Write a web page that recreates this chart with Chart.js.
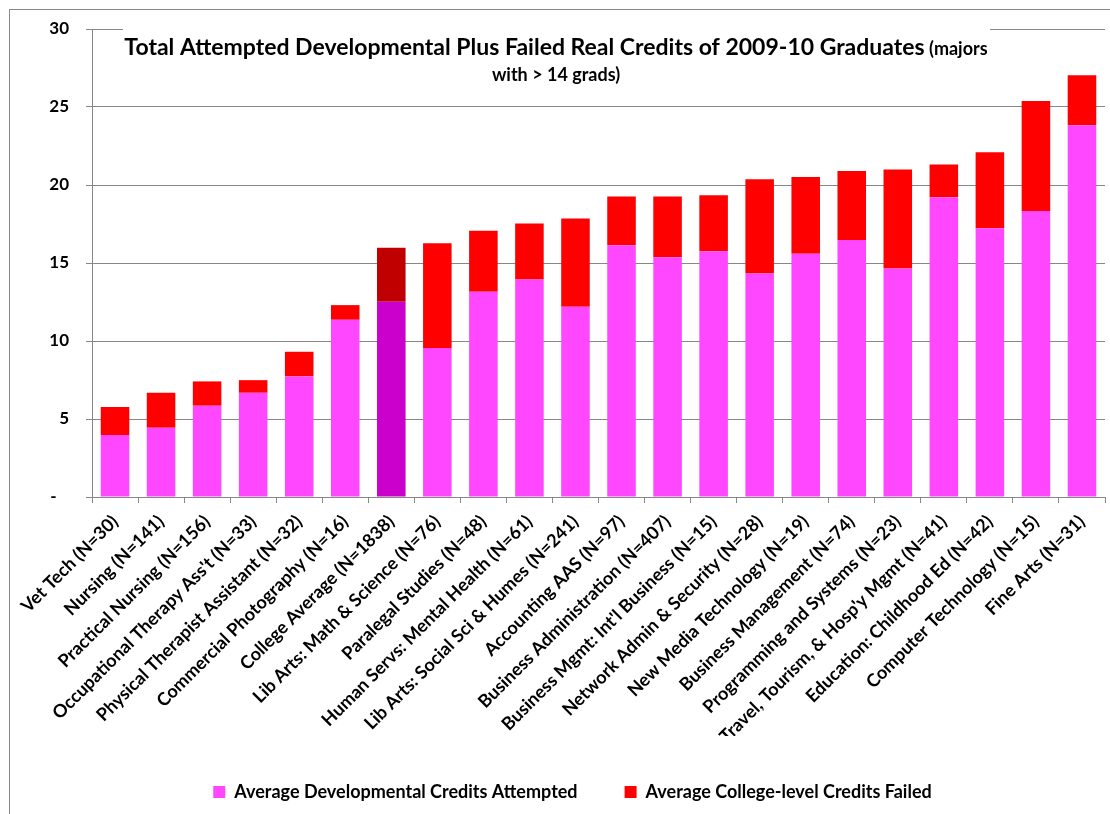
<!DOCTYPE html>
<html><head><meta charset="utf-8">
<script src="https://cdn.jsdelivr.net/npm/chart.js@4/dist/chart.umd.min.js"></script>
<style>html,body{margin:0;padding:0;background:#fff;}canvas{display:block;}</style>
</head><body>
<canvas id="c" width="1110" height="814"></canvas>
<script>
const categories = [
  'Vet Tech (N=30)','Nursing (N=141)','Practical Nursing (N=156)',"Occupational Therapy Ass't (N=33)",
  'Physical Therapist Assistant (N=32)','Commercial Photography (N=16)','College Average (N=1838)',
  'Lib Arts: Math & Science (N=76)','Paralegal Studies (N=48)','Human Servs: Mental Health (N=61)',
  'Lib Arts: Social Sci & Humes (N=241)','Accounting AAS (N=97)','Business Administration (N=407)',
  "Business Mgmt: Int'l Business (N=15)",'Network Admin & Security (N=28)','New Media Technology (N=19)',
  'Business Management (N=74)','Programming and Systems (N=23)',"Travel, Tourism, & Hosp'y Mgmt (N=41)",
  'Education: Childhood Ed (N=42)','Computer Technology (N=15)','Fine Arts (N=31)'
];
const devCredits = [3.97,4.44,5.85,6.68,7.73,11.36,12.51,9.55,13.15,13.94,12.19,16.14,15.37,15.76,14.32,15.59,16.48,14.64,19.22,17.23,18.34,23.83];
const failedCredits = [1.80,2.24,1.56,0.81,1.58,0.94,3.46,6.72,3.91,3.59,5.66,3.12,3.89,3.59,6.05,4.93,4.42,6.35,2.09,4.87,7.05,3.20];
const seriesNames = ['Average Developmental Credits Attempted','Average College-level Credits Failed'];
const yTickValues = [0,5,10,15,20,25,30];
const highlightCategory = 'College Average (N=1838)';
const titleMain = 'Total Attempted Developmental Plus Failed Real Credits of 2009-10 Graduates';
const titleTail = ' (majors';
const titleLine2 = 'with > 14 grads)';

const FONT = 'Lato, "Open Sans", sans-serif';
const GRID = '#878787';
const hiIdx = categories.indexOf(highlightCategory);

const decor = {
  id: 'decor',
  beforeDraw(chart) {
    const ctx = chart.ctx;
    ctx.save();
    ctx.fillStyle = '#fff';
    ctx.fillRect(0, 0, chart.width, chart.height);
    ctx.strokeStyle = '#8a8a8a';
    ctx.lineWidth = 1;
    ctx.strokeRect(9.5, 9.5, chart.width + 20, chart.height + 20);
    ctx.restore();
  },
  beforeDatasetsDraw(chart) {
    const ctx = chart.ctx;
    ctx.save();
    ctx.fillStyle = '#fff';
    ctx.fillRect(123, 14, 867, 84);
    ctx.fillStyle = '#000';
    ctx.textBaseline = 'alphabetic';
    ctx.textAlign = 'left';
    const cx = 556;
    ctx.font = 'bold 23px ' + FONT;
    const w1 = ctx.measureText(titleMain).width;
    ctx.font = 'bold 18px ' + FONT;
    const w2 = ctx.measureText(titleTail).width;
    let x0 = cx - (w1 + w2) / 2;
    ctx.font = 'bold 23px ' + FONT;
    ctx.fillText(titleMain, x0, 55);
    ctx.font = 'bold 18px ' + FONT;
    ctx.fillText(titleTail, x0 + w1, 55);
    ctx.textAlign = 'center';
    ctx.fillText(titleLine2, cx, 81);
    ctx.restore();
  }
};

new Chart(document.getElementById('c'), {
  type: 'bar',
  data: {
    labels: categories,
    datasets: [
      {
        label: seriesNames[0],
        data: devCredits,
        backgroundColor: (c) => c.dataIndex === hiIdx ? '#CC00CC' : '#FF47FF',
        borderWidth: 0,
        barPercentage: 0.62,
        categoryPercentage: 1.0
      },
      {
        label: seriesNames[1],
        data: failedCredits,
        backgroundColor: (c) => c.dataIndex === hiIdx ? '#C00000' : '#FF0000',
        borderWidth: 0,
        barPercentage: 0.62,
        categoryPercentage: 1.0
      }
    ]
  },
  options: {
    responsive: false,
    devicePixelRatio: 1,
    animation: false,
    layout: { padding: { top: 29, left: 40, right: 5, bottom: 3 } },
    plugins: {
      title: { display: false },
      tooltip: { enabled: false },
      legend: {
        position: 'bottom',
        labels: {
          boxWidth: 12, boxHeight: 12, padding: 47, color: '#000',
          font: { family: FONT, size: 18, weight: 'bold' }
        }
      }
    },
    scales: {
      x: {
        stacked: true,
        grid: { display: true, drawOnChartArea: false, drawTicks: true, tickLength: 6, color: GRID, offset: true },
        border: { display: true, color: GRID, width: 1 },
        ticks: {
          autoSkip: false, maxRotation: 45, minRotation: 45, padding: 8, color: '#000',
          font: { family: FONT, size: 18, weight: 'bold' }
        },
        afterFit(s) { s.height = 239; }
      },
      y: {
        stacked: true,
        min: 0, max: 30,
        afterBuildTicks(s) { s.ticks = yTickValues.map(v => ({ value: v })); },
        ticks: {
          padding: 17, color: '#000',
          font: { family: FONT, size: 17, weight: 'bold' },
          callback: (v) => v === 0 ? '-   ' : String(v)
        },
        grid: { color: GRID, tickLength: 6, drawTicks: true },
        border: { display: true, color: GRID, width: 1 },
        afterFit(s) { s.width = 52; }
      }
    }
  },
  plugins: [decor]
});
</script>
</body></html>
